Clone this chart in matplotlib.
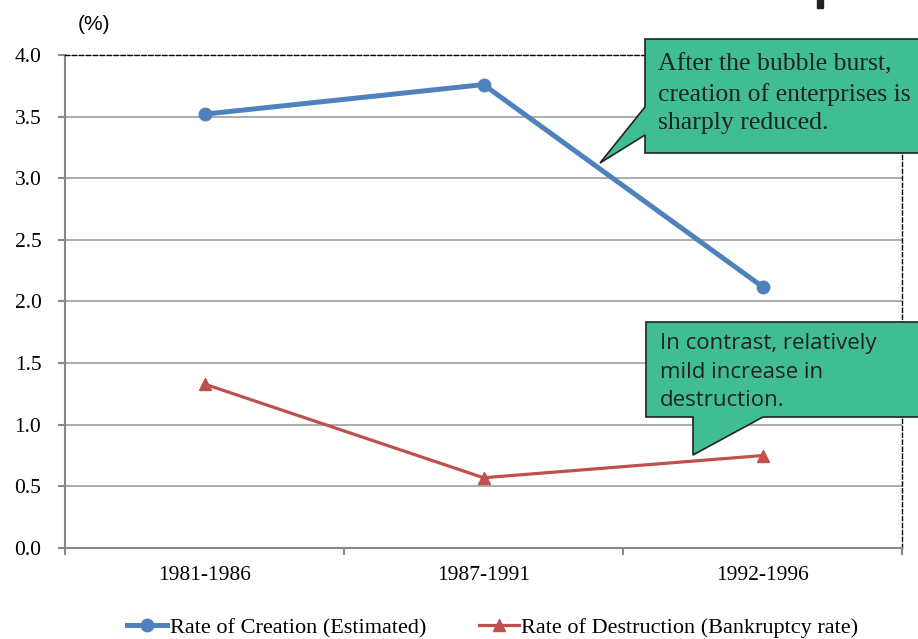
import matplotlib
matplotlib.use("Agg")
import matplotlib.pyplot as plt
import matplotlib.transforms as mtransforms
from matplotlib.patches import Polygon, Rectangle
import numpy as np

periods = ['1981-1986', '1987-1991', '1992-1996']
creation = [3.52, 3.76, 2.12]
destruction = [1.33, 0.57, 0.75]
y_ticks = [0.0, 0.5, 1.0, 1.5, 2.0, 2.5, 3.0, 3.5, 4.0]

W, H = 918, 639
fig = plt.figure(figsize=(W / 100, H / 100), dpi=100)
# pixel coords, origin top-left
px = mtransforms.Affine2D().scale(1 / W, -1 / H).translate(0, 1) + fig.transFigure

ax = fig.add_axes([65 / W, (H - 548) / H, (902 - 65) / W, (548 - 55) / H])

x = np.arange(len(periods))
ax.plot(x, creation, color='#4F81BD', lw=3.6, marker='o', ms=9,
        label='Rate of Creation (Estimated)', zorder=4, clip_on=False)
ax.plot(x, destruction, color='#C0504D', lw=2.3, marker='^', ms=9,
        label='Rate of Destruction (Bankruptcy rate)', zorder=4, clip_on=False)

ax.set_xlim(-0.5, len(periods) - 0.5)
ax.set_ylim(0, 4.0)
ax.set_yticks(y_ticks)
ax.set_yticklabels([f'{v:.1f}' for v in y_ticks], family='Liberation Serif', fontsize=15.5)
ax.set_xticks(x)
ax.set_xticklabels(periods, family='Liberation Serif', fontsize=15.5)
ax.tick_params(axis='x', length=0, pad=13)
ax.set_xticks(np.arange(len(periods) + 1) - 0.5, minor=True)
ax.tick_params(axis='x', which='minor', length=5, color='#888888', width=1.5)
ax.tick_params(axis='y', length=5, color='#888888', width=1.5, pad=12)

ax.grid(axis='y', color='#A6A6A6', lw=1.3)
ax.set_axisbelow(True)
for s in ['left', 'bottom']:
    ax.spines[s].set_color('#888888')
    ax.spines[s].set_linewidth(1.5)
for s in ['top', 'right']:
    ax.spines[s].set_color('black')
    ax.spines[s].set_linewidth(1.0)
    ax.spines[s].set_linestyle((0, (3, 2)))

fig.text(78 / W, 1 - 25 / H, '(%)', family='Liberation Sans', fontsize=15, va='center')

# small black mark at top edge
fig.patches.append(Rectangle((817, 0), 6, 8, transform=px, color='#222222'))

green = '#40BD92'
call1 = [(645, 39), (925, 39), (925, 153), (645, 153), (645, 135), (600, 163), (645, 107)]
fig.patches.append(Polygon(call1, closed=True, transform=px, facecolor=green,
                           edgecolor='#222222', lw=1.2, zorder=5))
fig.text(658 / W, 1 - 94 / H, 'After the bubble burst,\ncreation of enterprises is\nsharply reduced.',
         family='Liberation Serif', fontsize=18.5, va='center', ha='left', color='#222222',
         linespacing=1.4, zorder=6)

call2 = [(646, 322), (925, 322), (925, 417), (763, 417), (693, 455), (693, 417), (646, 417)]
fig.patches.append(Polygon(call2, closed=True, transform=px, facecolor=green,
                           edgecolor='#222222', lw=1.2, zorder=5))
fig.text(660 / W, 1 - 372 / H, 'In contrast, relatively\nmild increase in\ndestruction.',
         family='Open Sans', fontsize=16, va='center', ha='left', color='#222222',
         linespacing=1.45, zorder=6)

fig.legend(loc='center', bbox_to_anchor=(0.537, 1 - 628 / H), ncol=2, frameon=False,
           prop={'family': 'Liberation Serif', 'size': 16}, handlelength=1.8,
           handletextpad=0.1, columnspacing=2.4)

fig.savefig('out.png', dpi=100)
